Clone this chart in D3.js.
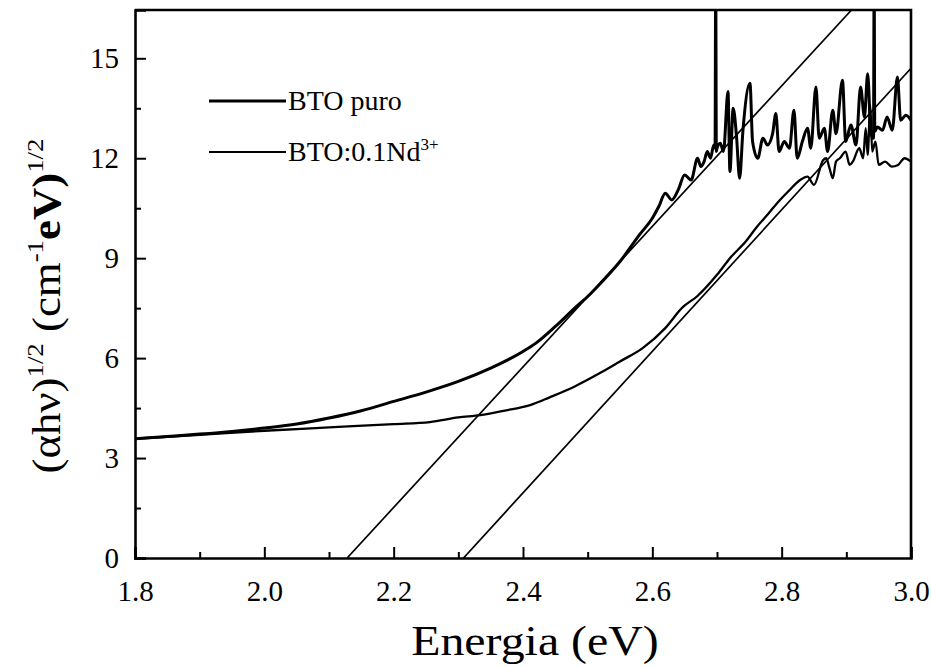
<!DOCTYPE html>
<html>
<head>
<meta charset="utf-8">
<script src="https://cdn.jsdelivr.net/npm/d3@7"></script>
<style>
  body { margin: 0; background: #fff; }
  text { font-family: "Liberation Serif", "Times New Roman", serif; fill: #000; }
</style>
</head>
<body>
<div class="viz"></div>
<script>
// ---- data ----
var puroE = [1.80,1.85,1.90,1.95,2.00,2.05,2.10,2.15,2.20,2.25,2.30,2.35,2.40,
  2.42,2.45,2.48,2.50,2.52,2.55,2.58,
  2.60,2.61,2.62,2.63,2.64,2.65,2.66,2.67,
  2.675,2.68,2.685,2.69,2.695,2.697,2.698,2.699,2.70,2.705,2.71,
  2.717,2.72,2.725,2.73,2.735,2.74,
  2.751,2.755,2.763,2.771,2.778,2.786,2.791,2.796,
  2.804,2.812,2.819,2.824,2.832,2.84,2.845,
  2.853,2.858,2.866,2.871,2.879,2.884,
  2.894,2.899,2.907,2.915,2.922,2.928,2.933,2.938,
  2.942,2.943,2.944,
  2.948,2.956,2.963,2.971,2.979,2.984,2.992,3.0];
var puroV = [3.58,3.65,3.72,3.80,3.90,4.02,4.20,4.42,4.70,4.98,5.30,5.70,6.20,
  6.45,6.95,7.50,7.85,8.25,8.90,9.70,
  10.20,10.55,10.95,10.75,11.05,11.50,11.35,12.00,
  11.75,11.90,12.20,12.00,12.40,12.3,17.5,12.2,12.3,12.45,12.2,
  14.0,11.6,13.5,12.7,11.4,12.8,
  14.25,12.5,12.0,12.6,12.4,12.74,13.34,12.2,
  12.5,12.3,13.44,12.0,12.5,12.9,12.3,
  14.14,12.6,12.9,12.2,13.44,12.74,
  14.34,12.5,13.0,12.4,14.14,13.24,14.54,12.74,
  12.6,17.5,12.8,
  12.94,12.84,13.24,12.84,14.44,13.14,13.29,13.14];

var ndE = [1.80,1.90,2.00,2.10,2.20,2.256,2.30,2.334,2.37,2.411,
  2.442,2.48,2.519,2.55,2.585,2.62,2.647,2.669,2.70,2.72,
  2.746,2.76,2.78,2.797,2.81,2.828,2.84,2.85,2.864,2.869,
  2.874,2.879,2.884,2.89,2.899,2.905,2.91,2.92,2.926,2.93,
  2.933,2.937,2.94,2.945,2.95,2.96,2.97,2.98,2.99,3.0];
var ndV = [3.58,3.70,3.82,3.92,4.02,4.08,4.22,4.29,4.42,4.59,
  4.83,5.15,5.55,5.90,6.30,6.90,7.53,7.85,8.50,9.00,
  9.54,9.90,10.35,10.74,11.0,11.34,11.45,11.2,11.94,12.0,
  11.7,11.4,11.9,12.0,12.2,11.8,11.9,12.3,12.0,12.9,
  12.1,13.6,12.2,12.5,11.8,11.9,11.75,11.8,12.0,11.9];

// linear fits (Tauc extrapolation)
var puroFitE = [2.128, 2.908];
var puroFitV = [0, 16.45];
var ndFitE = [2.308, 3.0];
var ndFitV = [0, 14.7];

var xMajor = [1.8, 2.0, 2.2, 2.4, 2.6, 2.8, 3.0];
var xMinor = [1.9, 2.1, 2.3, 2.5, 2.7, 2.9];
var yMajor = [0, 3, 6, 9, 12, 15];
var yMinor = [1.5, 4.5, 7.5, 10.5, 13.5];

var seriesNames = ["BTO puro", "BTO:0.1Nd"];

// ---- layout ----
var SVGwd = 932, SVGht = 667;
var pLeft = 135, pRight = 911, pTop = 10, pBottom = 558;

var canvas = d3.select(".viz")
    .append("svg")
    .attr("width", SVGwd)
    .attr("height", SVGht);

var x = d3.scaleLinear().domain([1.8, 3.0]).range([pLeft, pRight]);
var y = d3.scaleLinear().domain([0, 16.45]).range([pBottom, pTop]);

canvas.append("clipPath").attr("id", "plot")
    .append("rect")
    .attr("x", pLeft).attr("y", pTop)
    .attr("width", pRight - pLeft).attr("height", pBottom - pTop);

var line = d3.line()
    .x(function (d) { return x(d[0]); })
    .y(function (d) { return y(d[1]); });
var curve = d3.line()
    .curve(d3.curveMonotoneX)
    .x(function (d) { return x(d[0]); })
    .y(function (d) { return y(d[1]); });

function pairs(es, vs) {
    return es.map(function (e, i) { return [e, vs[i]]; });
}

var plot = canvas.append("g").attr("clip-path", "url(#plot)");

// fit lines
[[puroFitE, puroFitV], [ndFitE, ndFitV]].forEach(function (f) {
    plot.append("path")
        .datum(pairs(f[0], f[1]))
        .attr("d", line)
        .attr("fill", "none")
        .attr("stroke", "black")
        .attr("stroke-width", 1.7);
});

// measured curves
plot.append("path")
    .datum(pairs(ndE, ndV))
    .attr("d", curve)
    .attr("fill", "none")
    .attr("stroke", "black")
    .attr("stroke-width", 2.3)
    .attr("stroke-linejoin", "round");

plot.append("path")
    .datum(pairs(puroE, puroV))
    .attr("d", curve)
    .attr("fill", "none")
    .attr("stroke", "black")
    .attr("stroke-width", 3)
    .attr("stroke-linejoin", "round");

// ---- axes ----
var xAxis = canvas.append("g")
    .attr("transform", "translate(0," + pBottom + ")")
    .call(d3.axisBottom(x).tickValues(xMajor).tickSize(-11).tickPadding(22)
        .tickFormat(d3.format(".1f")));
canvas.append("g")
    .attr("transform", "translate(0," + pBottom + ")")
    .call(d3.axisBottom(x).tickValues(xMinor).tickSize(-6).tickFormat(""))
    .select(".domain").remove();

var yAxis = canvas.append("g")
    .attr("transform", "translate(" + pLeft + ",0)")
    .call(d3.axisLeft(y).tickValues(yMajor).tickSize(-11).tickPadding(16)
        .tickFormat(d3.format("d")));
canvas.append("g")
    .attr("transform", "translate(" + pLeft + ",0)")
    .call(d3.axisLeft(y).tickValues(yMinor).tickSize(-6).tickFormat(""))
    .select(".domain").remove();

canvas.selectAll(".tick line").attr("stroke-width", 2);
xAxis.select(".domain").attr("stroke-width", 2.6);
yAxis.select(".domain").attr("stroke-width", 2.6);
canvas.selectAll(".tick text")
    .style("font-family", "'Liberation Serif', 'Times New Roman', serif")
    .style("font-size", "29px");

// frame top / right
canvas.append("path")
    .attr("d", "M" + pLeft + "," + pTop + "H" + pRight + "V" + pBottom)
    .attr("fill", "none")
    .attr("stroke", "black")
    .attr("stroke-width", 2.6);

// ---- legend ----
var legend = canvas.append("g");
[3, 2].forEach(function (w, i) {
    var ly = 101 + i * 51;
    legend.append("line")
        .attr("x1", 209).attr("x2", 286)
        .attr("y1", ly).attr("y2", ly)
        .attr("stroke", "black")
        .attr("stroke-width", w);
    var t = legend.append("text")
        .attr("x", 288).attr("y", ly + 9)
        .style("font-size", "28px")
        .text(seriesNames[i]);
    if (i == 1)
        t.append("tspan").attr("dy", -11).style("font-size", "17px").text("3+");
});

// ---- axis titles ----
canvas.append("text")
    .attr("transform", "translate(535,655) scale(1.14,1)")
    .attr("text-anchor", "middle")
    .style("font-size", "42px")
    .text("Energia (eV)");

var yt = canvas.append("text")
    .attr("transform", "translate(60,306) rotate(-90) scale(1.12,1)")
    .attr("text-anchor", "middle")
    .style("font-size", "40px");
yt.append("tspan").text("(αhν)");
yt.append("tspan").attr("dy", -17).style("font-size", "24px").text("1/2");
yt.append("tspan").attr("dy", 17).text(" (cm");
yt.append("tspan").attr("dy", -17).style("font-size", "24px").text("-1");
yt.append("tspan").attr("dy", 17).style("font-weight", "bold").text("eV)");
yt.append("tspan").attr("dy", -17).style("font-size", "24px").text("1/2");
</script>
</body>
</html>
